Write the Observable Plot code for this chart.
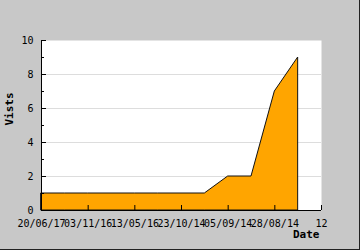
<!DOCTYPE html>
<html>
<head>
<meta charset="utf-8">
<script src="https://cdn.jsdelivr.net/npm/d3@7"></script>
<script src="https://cdn.jsdelivr.net/npm/@observablehq/plot@0.6"></script>
<style>
  html, body { margin: 0; padding: 0; background: #c8c8c8; }
</style>
</head>
<body>
<div id="chart"></div>
<script>
const pointIndex = [0, 1, 2, 3, 4, 5, 6, 7, 8, 9, 10, 11];
const visits = [1, 1, 1, 1, 1, 1, 1, 1, 2, 2, 7, 9];
const xTickValues = [0, 2, 4, 6, 8, 10, 12];
const xTickLabels = ["20/06/17", "03/11/16", "13/05/16", "23/10/14", "05/09/14", "28/08/14", "12"];
const yMajor = [0, 2, 4, 6, 8, 10];
const yMinor = [1, 3, 5, 7, 9];
const yGrid = [2, 4, 6, 8];
const yTitle = ["Vists"];
const xTitle = ["Date"];

const data = pointIndex.map((i, k) => ({i, v: visits[k]}));
const labelOf = new Map(xTickValues.map((t, k) => [t, xTickLabels[k]]));

const chart = Plot.plot({
  width: 360,
  height: 250,
  marginLeft: 41,
  marginRight: 39,
  marginTop: 40,
  marginBottom: 40,
  style: {
    background: "#c8c8c8",
    fontFamily: "'DejaVu Sans Mono', monospace",
    fontSize: "10px",
    color: "#000",
    boxShadow: "inset -1px -1px 0 #222"
  },
  x: {domain: [0, 12]},
  y: {domain: [0, 10]},
  marks: [
    Plot.frame({fill: "#fff", stroke: null}),
    Plot.gridY(yGrid, {stroke: "#dddddd", strokeOpacity: 1}),
    Plot.areaY(data, {x: "i", y: "v", fill: "#ffa500", stroke: "#111", strokeWidth: 1}),
    Plot.ruleY([0], {stroke: "#000"}),
    Plot.ruleX([0], {stroke: "#000"}),
    // inward tick marks
    Plot.ruleX(xTickValues, {x: d => d, y1: 0, y2: 0, insetBottom: 5, stroke: "#000"}),
    Plot.ruleY(yMajor, {y: d => d, x1: 0, x2: 0, insetRight: -5, stroke: "#000"}),
    Plot.ruleY(yMinor, {y: d => d, x1: 0, x2: 0, insetRight: -3, stroke: "#000"}),
    // tick labels
    Plot.axisX({ticks: xTickValues, tickSize: 0, tickPadding: 9, tickFormat: d => labelOf.get(d), label: null}),
    Plot.axisY({ticks: yMajor, tickSize: 0, tickPadding: 8, label: null}),
    Plot.text(xTitle, {text: d => d, frameAnchor: "bottom-right", dx: -2, dy: 27, textAnchor: "end", fontWeight: "bold", fontSize: 11}),
    Plot.text(yTitle, {text: d => d, frameAnchor: "left", dx: -32, rotate: -90, fontWeight: "bold", fontSize: 11})
  ]
});
document.getElementById("chart").appendChild(chart);
</script>
</body>
</html>
